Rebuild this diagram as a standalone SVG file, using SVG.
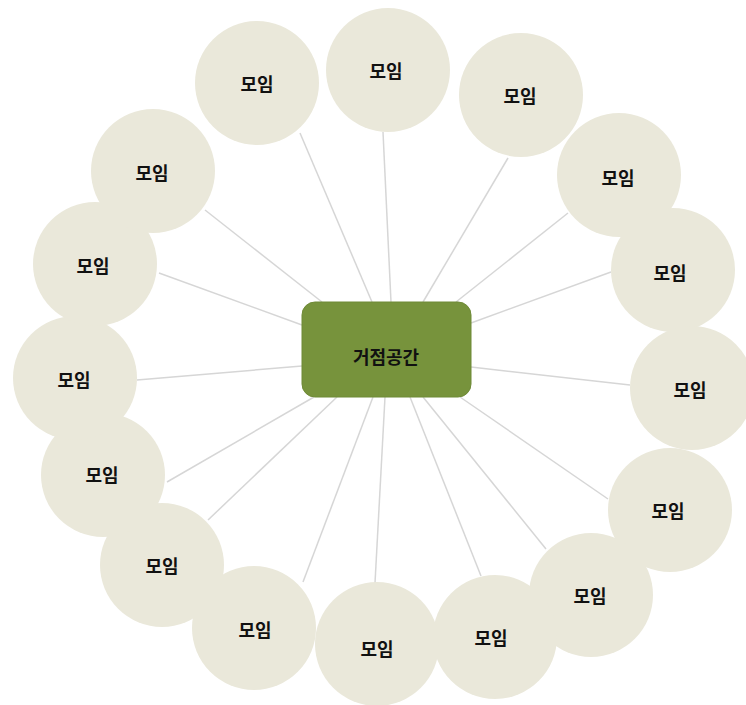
<svg xmlns="http://www.w3.org/2000/svg" width="746" height="705" viewBox="0 0 746 705">
<style>
.c{fill:#eae8da}
.t{font-family:"Noto Sans CJK KR","Noto Sans",sans-serif;font-weight:bold;font-size:18px;fill:#111;text-anchor:middle;dominant-baseline:central}
.l{stroke:#d6d6d6;stroke-width:1.5;fill:none}
</style>
<rect width="746" height="705" fill="#ffffff"/>
<g id="connectors">
<line class="l" x1="372" y1="302" x2="300" y2="133"/>
<line class="l" x1="322" y1="302" x2="205" y2="210"/>
<line class="l" x1="302" y1="325" x2="159" y2="273"/>
<line class="l" x1="391" y1="302" x2="383" y2="132"/>
<line class="l" x1="423" y1="302" x2="508" y2="158"/>
<line class="l" x1="456" y1="302" x2="568" y2="213"/>
<line class="l" x1="471" y1="323" x2="611" y2="272"/>
<line class="l" x1="471" y1="367" x2="630" y2="385"/>
<line class="l" x1="460" y1="397" x2="608" y2="499"/>
<line class="l" x1="423" y1="397" x2="546" y2="549"/>
<line class="l" x1="410" y1="397" x2="481" y2="576"/>
<line class="l" x1="385" y1="397" x2="375" y2="583"/>
<line class="l" x1="373" y1="397" x2="303" y2="582"/>
<line class="l" x1="337" y1="397" x2="208" y2="520"/>
<line class="l" x1="314" y1="397" x2="167" y2="482"/>
<line class="l" x1="302" y1="366" x2="137" y2="380"/>
</g>
<g id="node-center">
<rect x="302" y="302" width="169" height="95" rx="13" ry="13" fill="#77933c" stroke="#6f8a37" stroke-width="1"/>
<text class="t" x="386" y="356">거점공간</text>
</g>
<g id="n1"><circle class="c" cx="257" cy="83" r="62"/><text class="t" x="257" y="83">모임</text></g>
<g id="n2"><circle class="c" cx="388" cy="70" r="62"/><text class="t" x="386" y="70">모임</text></g>
<g id="n3"><circle class="c" cx="521" cy="95" r="62"/><text class="t" x="520" y="95">모임</text></g>
<g id="n4"><circle class="c" cx="619" cy="175" r="62"/><text class="t" x="618" y="177">모임</text></g>
<g id="n5"><circle class="c" cx="673" cy="270" r="62"/><text class="t" x="670" y="272">모임</text></g>
<g id="n6"><circle class="c" cx="692" cy="388" r="62"/><text class="t" x="690" y="389">모임</text></g>
<g id="n7"><circle class="c" cx="670" cy="510" r="62"/><text class="t" x="668" y="510">모임</text></g>
<g id="n8"><circle class="c" cx="591" cy="595" r="62"/><text class="t" x="590" y="595">모임</text></g>
<g id="n9"><circle class="c" cx="495" cy="637" r="62"/><text class="t" x="491" y="637">모임</text></g>
<g id="n10"><circle class="c" cx="377" cy="644" r="62"/><text class="t" x="377" y="648">모임</text></g>
<g id="n11"><circle class="c" cx="254" cy="628" r="62"/><text class="t" x="255" y="629">모임</text></g>
<g id="n12"><circle class="c" cx="162" cy="565" r="62"/><text class="t" x="162" y="565">모임</text></g>
<g id="n13"><circle class="c" cx="103" cy="475" r="62"/><text class="t" x="102" y="474">모임</text></g>
<g id="n14"><circle class="c" cx="75" cy="378" r="62"/><text class="t" x="74" y="379">모임</text></g>
<g id="n15"><circle class="c" cx="95" cy="264" r="62"/><text class="t" x="93" y="265">모임</text></g>
<g id="n16"><circle class="c" cx="153" cy="171" r="62"/><text class="t" x="152" y="172">모임</text></g>
</svg>
